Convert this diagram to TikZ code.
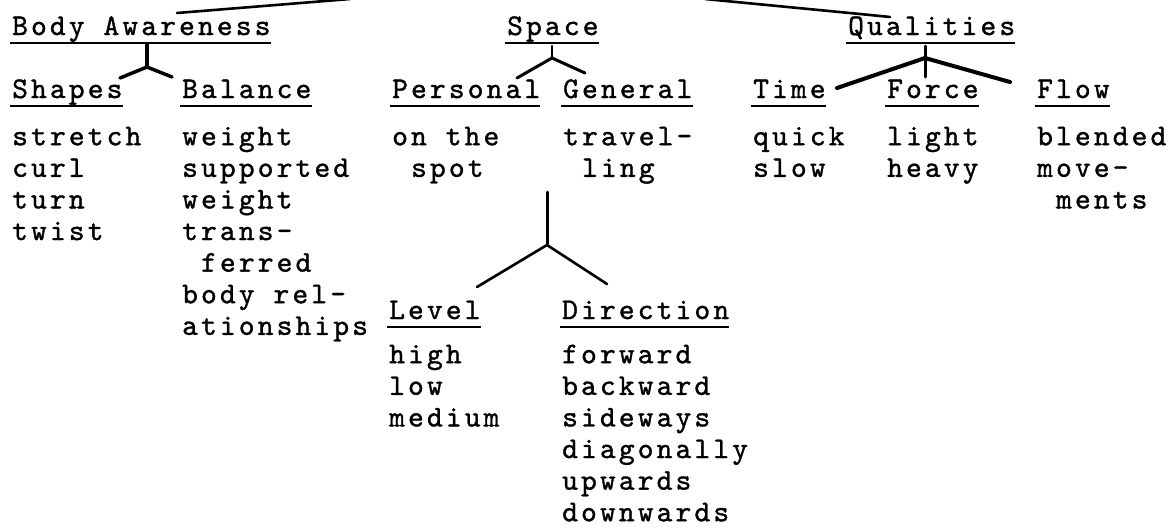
\documentclass[tikz,border=0pt]{standalone}
\usepackage{fontspec}
\newfontfamily\tw{lmmono10-regular.otf}[LetterSpace=10.5,FakeBold=1.2]
\tikzset{
  x=1pt, y=-1pt,
  txt/.style={font=\tw\fontsize{30}{31.6}\selectfont, inner sep=0pt},
  head/.style={txt, anchor=base west},
  body/.style={txt, anchor=north west, align=left},
  uline/.style={line width=2pt},
  conn/.style={line width=3.5pt, line cap=round, line join=round},
  thinconn/.style={line width=2.6pt, line cap=round, line join=round},
}
\newcommand{\ind}{\hspace*{18.9pt}}
\begin{document}
\begin{tikzpicture}
\useasboundingbox (0,0) rectangle (1174,531);
% headings, row 1
\node[head] (ba) at (12,35) {Body Awareness};
\node[head] (sp) at (507,35) {Space};
\node[head] (qu) at (848,35) {Qualities};
% headings, row 2
\node[head] (sh) at (12,98) {Shapes};
\node[head] (bl) at (182,98) {Balance};
\node[head] (pe) at (392,98) {Personal};
\node[head] (ge) at (563,98) {General};
\node[head] (ti) at (753,98) {Time};
\node[head] (fo) at (887,98) {Force};
\node[head] (fl) at (1037,98) {Flow};
% headings, row 3
\node[head] (le) at (389,319) {Level};
\node[head] (di) at (562,319) {Direction};
% underlines
\foreach \n in {ba,sp,qu,sh,bl,pe,ge,ti,fo,fl,le,di}
  \draw[uline] ([shift={(-2pt,-7.5pt)}]\n.base west) -- ([shift={(0pt,-7.5pt)}]\n.base east);
% body texts (first baseline = y + 22.1)
\node[body] (shT) at (12,122.9) {\strut stretch\\curl\\turn\\twist};
\node[body] (blT) at (182,122.9) {\strut weight\\supported\\weight\\trans-\\\ind ferred\\body rel-\\ationships};
\node[body] (peT) at (392,122.9) {\strut on the\\\ind spot};
\node[body] (geT) at (563,122.9) {\strut travel-\\\ind ling};
\node[body] (tiT) at (753,122.9) {\strut quick\\slow};
\node[body] (foT) at (887,122.9) {\strut light\\heavy};
\node[body] (flT) at (1037,122.9) {\strut blended\\move-\\\ind ments};
\node[body] (leT) at (389,340.9) {\strut high\\low\\medium};
\node[body] (diT) at (562,340.9) {\strut forward\\backward\\sideways\\diagonally\\upwards\\downwards};
% connector points
\coordinate (baTop) at (147,45);
\coordinate (baJ) at (147,67);
\coordinate (shEnd) at (120,78);
\coordinate (blEnd) at (172,77);
\coordinate (spTop) at (552,46);
\coordinate (spJ) at (552,58);
\coordinate (peEnd) at (517,78);
\coordinate (geEnd) at (585,73);
\coordinate (quTop) at (925,46);
\coordinate (quJ) at (925,58);
\coordinate (foEnd) at (925,77);
\coordinate (tiEnd) at (837,88);
\coordinate (flEnd) at (1010,82);
\coordinate (lowTop) at (547,192);
\coordinate (lowJ) at (547,245);
\coordinate (leEnd) at (477,287);
\coordinate (diEnd) at (607,284);
\coordinate (upL) at (350,-1);
\coordinate (baIn) at (177,13);
\coordinate (upR) at (705,-1);
\coordinate (quBend) at (860,14);
\coordinate (quIn) at (890,17);
% connectors
\draw[conn, line width=4pt] (baTop) -- (baJ);
\draw[conn, line width=3.5pt] (shEnd) -- (baJ) -- (blEnd);
\draw[conn, line width=2.8pt] (spTop) -- (spJ);
\draw[conn, line width=3pt] (peEnd) -- (spJ) -- (geEnd);
\draw[conn, line width=3pt] (quTop) -- (foEnd);
\draw[conn, line width=4pt] (tiEnd) -- (quJ) -- (flEnd);
\draw[thinconn, line width=3pt] (lowTop) -- (lowJ);
\draw[thinconn] (leEnd) -- (lowJ) -- (diEnd);
\draw[thinconn] (baIn) -- (upL);
\draw[thinconn] (upR) -- (quBend) -- (quIn);
\end{tikzpicture}
\end{document}
